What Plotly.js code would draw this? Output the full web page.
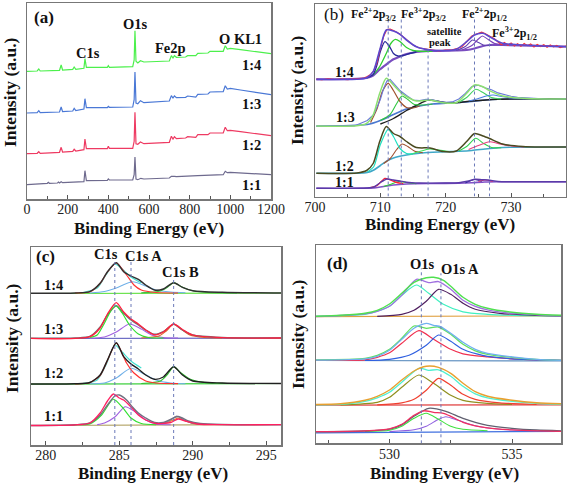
<!DOCTYPE html>
<html><head><meta charset="utf-8">
<script src="https://cdn.plot.ly/plotly-3.0.1.min.js"></script>
<style>html,body{margin:0;padding:0;background:#fff}#g{width:567px;height:483px}</style>
</head><body><div id="g"></div>
<script>
// ---------- Panel (a): survey spectra ----------
const aE14 = [0,50,58,65,160,168,175,225,232,240,280,285,292,395,400,405,520,527,531,536,545,558,575,700,710,718,725,735,780,790,830,840,890,900,965,975,985,1000,1050,1200];
const aI14 = [127.7,128,130,128,128.7,134,129,129.7,132,129.7,130.7,140.3,131.7,131.7,133.3,131.7,132.3,139,168.3,137.7,136,138.3,137,138,143.3,141,143.3,141.7,142,143.3,143.3,145.7,146,147.7,147.7,153.3,150,150.7,149.3,145.3];
const aE13 = aE14;
const aI13 = [86,86.3,88.3,86.3,87,92,87.3,88,90.7,88.3,90,100.3,91.3,91.3,92.7,91.7,92,99.3,127,96,95.3,98.3,96.3,98,103.3,101,103,101.3,101.7,103,102,104.7,105,107,107.3,113.3,110,110.7,109,104.3];
const aE12 = aE14;
const aI12 = [45.3,45.7,47.3,45.7,46.7,51.7,47,47.7,49.7,48,49.3,60,50.3,50.3,52.7,50.7,50.7,57.7,86.7,55.3,54.7,57,55.3,56.7,62.7,60,62.3,60.3,61,62.3,61.7,64.3,64.3,66,66,71.7,68.3,68.7,67.3,63.3];
const aE11 = [0,50,100,105,110,150,155,160,168,175,280,285,292,395,400,405,520,527,531,536,545,560,575,700,710,725,735,840,900,965,975,985,1000,1050,1200];
const aI11 = [14.3,14.7,15.7,16.7,15.7,16,17,16,17.3,16.3,17.3,28.3,18.3,18.7,20,19,19,24.3,42,20,19.3,20.7,20,21,22.7,22.7,22.3,23.3,24,24.3,27.7,26.3,26.7,26,24.3];

// ---------- Panel (b): Fe 2p ----------
const bEenv = [700.2,706.4,707.9,708.9,709.9,710.9,712.0,713.0,714.0,715.5,717.6,719.6,721.6,723.2,724.4,725.7,726.7,728.7,731.8,734.9,738.4];
const bEnv14 = [117.2,117.2,118.8,124.8,146.5,166.5,165.5,162.2,156.5,149.8,146.5,145.8,147.2,154.8,161.5,163.2,159.8,153.2,151.5,150.5,149.8];
const bEnv13 = [70.5,70.8,73.2,81.5,103.2,118.2,111.5,104.8,99.8,95.5,96.5,93.8,93.8,103.2,111.5,109.8,105.8,100.5,98.2,97.5,97.5];
const bEnv12 = [23.2,23.5,26,33,55,70,63,60,55,49,48.5,45,45.5,55,63,60.5,58,52.5,50,49.5,49.5];
const bData14E = [700.2,701,702,703,704,705,706,707,707.5,708,708.5,709,709.5,710,710.5,711,711.5,712,712.5,713,713.5,714,714.5,715,715.5,716,717,718,719,720,721,722,722.5,723,723.5,724,724.5,725,725.5,726,726.5,727,727.5,728,728.5,729,729.5,730,730.5,731,731.5,732,732.5,733,733.5,734,734.5,735,735.5,736,736.5,737,737.5,738.4];
const bData14 = [117.5,116.8,117.6,117,117.4,116.9,117.5,117.8,118.5,120,122,126,134,148,160,167,167.5,166,164.5,162.5,159.5,157,154,151.5,150,148.5,147.5,146.2,145.5,146.5,146.8,148.5,150,153.5,157,160.5,162,163.5,164.3,163,161,159,157.5,154.5,152,154,151.2,153.5,150.5,152.8,150.2,153,150.8,152.5,149.5,152,150,151.8,149.2,151.5,149.5,151,148.8,150.5];
const bBg14E = [700.2,707.9,708.9,709.9,710.9,712.0,713.0,714.0,715.5,717.6,721.6,723.2,724.4,725.7,726.7,728.7,738.4];
const bBg14 = [117.2,118.5,121,127,132,137.2,140,142.5,144.5,145.5,146,146.5,148,150.5,151.5,151.5,150];
const bFe2p14E = [707.9,708.9,709.5,710.0,710.7,711.4,712.0,712.7,713.5,714.5,715.5];
const bFe2p14 = [118.6,122,132,145,154.8,150,143,140.5,141,143,144.5];
const bFe3p14E = [708.9,709.9,710.9,711.6,712.3,713.0,714.0,715.0,716.5,718];
const bFe3p14 = [121.5,130,143,153,157.2,155,149,146,145.2,145.5];
const bHalfA14E = [721.6,723.0,724.1,725.0,726.0,727.0];
const bHalfA14 = [146,150,156.5,154,151,151.5];
const bHalfB14E = [722.5,724.0,725.0,725.6,726.5,727.5,729.0];
const bHalfB14 = [146.5,151,157.5,160.5,157,153,151.5];

const bData13E = [700.2,703,706,708,709,710,710.5,711,711.5,712,713,714,715,716,717,718,719,720,721,722,723,724,725,726,727,728,729,730,731,732,734,736,738.4];
const bData13 = [70.3,70.8,70.5,76,82,97,108,115.5,117,113.5,106,101,96.5,96,97.2,96.8,95,94.2,94.6,97.5,103,110,111.2,108.8,106.8,103.6,101.8,100.2,99.3,98.8,97.9,97.3,97.6];
const bBg13E = [700.2,708,710,712,714,716,718,720,722,724,726,728,738.4];
const bBg13 = [70.5,72,76,82,87.5,90.5,92.5,93.3,94,95,96.5,97.3,97.5];
const bFe2p13E = [708.5,709.5,710.3,711.2,712,713,714,715,716];
const bFe2p13 = [74,88,105,113.2,106,95,89,88.5,90.5];
const bFe3p13E = [710,711.5,712.5,713.3,714.2,715.2,716.5,718];
const bFe3p13 = [76,82,93,100.5,97,92,91.5,92.5];
const bSat13E = [710,712,714,715.5,717.3,719,720.5,722,724,728,738.4];
const bSat13 = [72.5,78,86,91,96.5,95,93.5,94,95.5,97.3,97.5];
const bHalfA13E = [722,723.2,724.6,725.7,727,728.5];
const bHalfA13 = [94.2,99,107.2,104,99,97.5];
const bHalfB13E = [723.5,725,726.5,727.3,728.5,730,732];
const bHalfB13 = [95.5,98,101,101.5,100,98.5,97.8];

const bBg12E = [700.2,708,709,710,711,712,714,716,718,720,722,724,726,728,730,738.4];
const bBg12 = [23.2,24,26.5,31,35.5,38.5,41.5,43.3,44.2,44.8,45.2,46,47.5,48.8,49.3,49.5];
const bFe2p12E = [708,709,710,711.2,712,713,714,715];
const bFe2p12 = [24.5,30,52,67.2,60,48,43,42.5];
const bFe3p12E = [710.5,711.5,712.5,713.3,714.2,715.2,716.5];
const bFe3p12 = [33,38,47,52.5,50,45.5,43.8];
const bSat12E = [714.5,716,717.5,719,720.5];
const bSat12 = [42,45,47.5,46.5,45];
const bHalfA12E = [722,723.2,724.6,725.8,727,728.5];
const bHalfA12 = [45.5,50,58.2,53,49,48.8];
const bHalfB12E = [723.5,725,726.7,728,730,732];
const bHalfB12 = [47,51,54.8,53,50.5,49.6];

const bEnv11E = [700.2,708,709,710,711,712,713,714,716,720,722,723.5,724.5,725.5,726.5,728,730,738.4];
const bEnv11 = [8.2,8.5,9.5,14,17.5,16.5,15.5,14.3,13.5,13.5,13.8,15.5,17.2,16.8,16.5,15,14.7,14.7];
const bFe2p11E = [708.5,709.5,710.7,711.5,712.5,713.5];
const bFe2p11 = [8.8,11,18.2,16.5,14,12.8];
const bFe3p11E = [710.5,711.5,712.8,714,715.5];
const bFe3p11 = [10,12,15,14,12.8];
const bBg11E = [700.2,709,710,711,712,714,718,722,724,726,728,738.4];
const bBg11 = [8.2,8.6,9.5,10.5,11.5,12.5,13,13.3,13.8,14.5,14.7,14.7];
const bHalfA11E = [723,724.4,725.5];
const bHalfA11 = [13.6,17,15];
const bHalfB11E = [725,726,727.2];
const bHalfB11 = [15,16.5,15];
const bRefE = [711.2,713.2,717.3,724.4,726.7];
const bRefTop = [178,178,147,178,158];

// ---------- Panel (c): C 1s ----------
const cEenv = [279,282,283,283.7,284.2,284.8,285.3,285.8,286.3,286.8,287.4,288,288.7,289.3,290,292,296];
const cEnv14 = [151.7,152,153.3,161.7,173.3,182.3,173.3,169,165.7,160,155,156,162.3,157.7,154.3,152.7,152];
const cEnv13 = [106.7,107,108.5,118,130,139.3,131.7,125,120,115,110.7,113.3,120.7,115,110,107.5,107];
const cEnv12 = [61,61.2,62.5,70,85,102.3,88.3,81,76,70,65.7,68,78.3,70,64,62,61.5];
const cBaseE = [279,296];
const cBase14 = [151.5,152];
const cBase13 = [106.5,107];
const cBase12 = [60.8,61.5];
const cBase11 = [19.5,20.5];
const cMain14E = [282,283,283.7,284.2,284.8,285.5,286,286.5,287.5,289];
const cMain14 = [152,153.2,161.5,173,182,170,160,155,152.5,152];
const cA14E = [283,284,284.8,285.9,286.8,287.5,288.5,289.5];
const cA14 = [152,153.5,157,163.3,159,155,153,152.2];
const cB14E = [286.5,287.8,288.3,288.7,289.2,289.8,291,293];
const cB14 = [152.2,154,158,162.3,158.5,155,152.5,152];
const cSide14E = [282.5,283.5,284.1,284.7,285.2,285.8,286.5];
const cSide14 = [152.3,157,170,181,176,168,162];
const cFit13E = [279,283,283.7,284.2,284.8,285.3,285.8,286.3,286.8,287.4,288,288.7,289.3,290,292,296];
const cFit13 = [106.7,108.3,117,131,142.3,133,126,121,115,110.2,113,121,115.5,110,107.3,107];
const cMain13E = [283,283.5,284,284.5,284.8,285.2,285.7,286.3,287,288];
const cMain13 = [107.5,110,122,136,139,132,120,111,107.5,107];
const cA13E = [283,284,284.8,285.7,286.5,287.2,288,289];
const cA13 = [106.8,108,113,121,116,110,107.5,107];
const cB13E = [286.5,287.7,288.2,288.7,289.2,289.8,290.8,292];
const cB13 = [107,109,114,121,116,110,107.5,107];
const cMain12E = [282,283,283.7,284.2,284.8,285.5,286,286.8,287.5,289];
const cMain12 = [61.2,62.3,69.5,84.5,102,82,72,64,62,61.3];
const cA12E = [283,284,284.8,285.8,286.7,287.5,288.5,289.5];
const cA12 = [61.2,62,67,76.7,71,65,62,61.3];
const cB12E = [286.5,287.8,288.3,288.7,289.2,289.8,290.8,292.5];
const cB12 = [61.5,64,71,78.3,72,66,62.5,61.5];
const cSide12E = [282.5,283.5,284.1,284.7,285.2,285.8,286.5];
const cSide12 = [61.5,65,80,100,93,84,77];
const cEnv11E = [279,282,283,283.7,284.2,284.7,285,285.5,285.9,286.3,286.8,287.4,288,289,289.7,290.5,292,296];
const cEnv11 = [19.5,20.2,22,30,40,49,50,45,38,32,27,22.5,22.5,28.5,24,21.5,20.5,20.3];
const cFit11E = [279,282,283,283.7,284.2,284.6,285,285.3,285.8,286.3,286.8,287.5,288.5,289,289.5,290.3,292,296];
const cFit11 = [19.5,20.2,22,32,44,51,47,45,38,30,25,21.5,22.5,26,24,21,20.3,20.3];
const cMain11E = [282.5,283,283.8,284.6,285.2,285.8,286.5,287.5];
const cMain11 = [20.2,21,30,45.7,38,27,21.5,20.3];
const cA11E = [283.5,284,284.7,285.4,286.1,286.8,287.5,288.5];
const cA11 = [20.4,22,28,38.3,33,25,21,20.3];
const cB11E = [287.5,288,288.5,288.9,289.4,290,291];
const cB11 = [20.5,21.5,25,29,25,21.5,20.5];
const cB11bE = [287.5,288.1,288.6,289,289.5,290.1,291];
const cB11b = [20.5,21.5,24.5,27,24,21.3,20.5];
const cRefE = [284.7,285.8,288.7];
const cRefTop = [183,183,168];

// ---------- Panel (d): O 1s ----------
const dEnvG14E = [527,528,529,529.5,530,530.5,531,531.5,531.8,532.2,532.5,533,533.5,534,535,536,537];
const dEnvG14 = [127,128,130,133,139.3,150,161,165.5,166,163,157,146,139,135,131,129,128];
const dEnvP14E = [527,528,529,529.5,530,530.5,531.1,531.6,532,532.5,533,533.5,534,535,536,537];
const dEnvP14 = [126.8,127.8,129.5,132,137,148,164,160.7,161.7,154,143,137,133.5,130,128.5,127.5];
const dMain14E = [527,529,529.5,530,530.5,531.1,531.6,532.2,533,534,535,537];
const dMain14 = [127,129,132,137,148,158.3,150,139,131.5,129,128,127.5];
const dA14E = [529.5,530.5,531,531.5,532,532.5,533,533.5,534.5,536,537];
const dA14 = [127,129,133,142,154,149,140,134,130,128,127.5];
const dBaseE = [527,537];
const dBase14 = [126.6,127.5];
const dEnvB13E = [527,529,529.5,530,530.5,531,531.5,531.8,532.1,532.5,533,533.5,534,535,536,537];
const dEnvB13 = [83.2,84.5,87,93,104,115,120,118,116.5,110,101,94,90,86.5,84,83];
const dEnvG13E = [527,529,529.5,530,530.5,531,531.5,532,532.5,533,533.5,534,535,536,537];
const dEnvG13 = [83.5,85,88,94,105,117.3,115,116.3,109,99,92.5,89,86,84,83];
const dMain13E = [527,529,529.5,530,530.5,531.2,531.8,532.5,533,534,535,537];
const dMain13 = [83,83.5,86,90.5,100,112.6,104,94,89.5,86.5,84.5,83];
const dA13E = [529,530,530.8,531.5,532,532.5,533,533.8,535,537];
const dA13 = [82.8,84,88,98,108.3,102,94,88,84.5,83];
const dBase13 = [82.8,82.4];
const dEnvO12E = [527,528,529,529.5,530,530.5,531,531.5,532,532.5,533,533.5,534,535,536,537];
const dEnvO12 = [38.8,39.5,43,47,53.3,63.3,72.3,77,76,70,60,51.6,47,43,40.5,39.5];
const dEnvC12E = [527,528,529,529.5,530,530.5,531.2,531.6,532,532.5,533,533.5,534,535,536,537];
const dEnvC12 = [38.5,39,42,45.5,51,61,75,73,73.5,67,57,49.5,45.5,42,40,39];
const dMain12E = [528,529.5,530,530.5,531.2,531.8,532.5,533,534,535];
const dMain12 = [38.5,41,46,56,68.3,60,48,43,40,38.8];
const dA12E = [529.5,530.5,531,531.5,532,532.5,533,533.5,534.5,536];
const dA12 = [38.4,40.5,44,53,65,58,49,44,40.5,38.8];
const dBase12 = [38.2,38.5];
const dEnvR11E = [527,529,530,530.5,531,531.4,531.8,532.2,532.5,533,533.5,534,535,536,537];
const dEnvR11 = [11.6,12.5,14.5,19,28,32.5,31,30,27,21,17.5,15.5,13.5,12.5,12];
const dEnvK11E = [527,529,530,530.5,531,531.6,532.3,533,534,535,536,537];
const dEnvK11 = [11.5,12.3,14.2,18.5,27,35,32,25,18,15,13.3,12.5];
const dMain11E = [529,530,530.5,531,531.5,532,532.5,533,534];
const dMain11 = [11.8,13,17,25,30,24,17,14,12.5];
const dA11E = [530,531,531.5,532,532.3,532.8,533.5,534.5,536];
const dA11 = [11.7,13.5,17,24,26.6,23,17.5,14,12.5];
const dBase11 = [10.5,12];
const dRefE = [531.3,532.1];
const dRefTop = [175,170];

// ---------- build ----------
const W = 567, H = 483;
const px = v => v / W, py = v => 1 - v / H;
const traces = [];
function L(x, y, color, w, ax, linear) {
  traces.push({x: x, y: y, type: 'scatter', mode: 'lines', xaxis: 'x' + ax, yaxis: 'y' + ax,
    line: {color: color, width: w, shape: linear ? 'linear' : 'spline', smoothing: 0.7},
    hoverinfo: 'skip', showlegend: false});
}
// (a)
L(aE11, aI11, '#6e6a8e', 1.2, '', true);
L(aE12, aI12, '#ee3a62', 1.2, '', true);
L(aE13, aI13, '#4a78d6', 1.2, '', true);
L(aE14, aI14, '#4cf04c', 1.2, '', true);
// (b)
L(bBg11E, bBg11, '#8050c8', 1.6, '2');
L(bFe3p11E, bFe3p11, '#30d030', 1.1, '2');
L(bFe2p11E, bFe2p11, '#ff2030', 1.3, '2');
L(bHalfA11E, bHalfA11, '#3030a0', 1.1, '2');
L(bHalfB11E, bHalfB11, '#e03070', 1.1, '2');
L(bEnv11E, bEnv11, '#5a3aa8', 1.4, '2');
L(bBg12E, bBg12, '#40a8c8', 1.6, '2');
L(bFe3p12E, bFe3p12, '#a05030', 1.1, '2');
L(bSat12E, bSat12, '#40e060', 1.1, '2');
L(bFe2p12E, bFe2p12, '#20e0c0', 1.2, '2');
L(bHalfA12E, bHalfA12, '#30d050', 1.1, '2');
L(bHalfB12E, bHalfB12, '#e84080', 1.1, '2');
L(bEenv, bEnv12, '#4a4a20', 1.5, '2');
L(bBg13E, bBg13, '#4a78d0', 1.6, '2');
L(bSat13E, bSat13, '#202020', 1.4, '2');
L(bFe3p13E, bFe3p13, '#30c840', 1.1, '2');
L(bFe2p13E, bFe2p13, '#a0522d', 1.2, '2');
L(bHalfA13E, bHalfA13, '#40d060', 1.1, '2');
L(bHalfB13E, bHalfB13, '#4a80e0', 1.1, '2');
L(bData13E, bData13, '#6a7ad8', 1.1, '2', true);
L(bEenv, bEnv13, '#8ce070', 1.5, '2');
L(bBg14E, bBg14, '#7a4ec0', 2.2, '2');
L(bFe3p14E, bFe3p14, '#30d030', 1.3, '2');
L(bFe2p14E, bFe2p14, '#2a2a9a', 1.3, '2');
L(bHalfA14E, bHalfA14, '#6040b0', 1.1, '2');
L(bHalfB14E, bHalfB14, '#7a40b8', 1.1, '2');
L(bData14E, bData14, '#ff3030', 1.1, '2', true);
L(bEenv, bEnv14, '#5a48d0', 1.6, '2');
// (c)
L(cBaseE, cBase11, '#b0a060', 1.2, '3');
L(cB11bE, cB11b, '#f08020', 1.1, '3');
L(cB11E, cB11, '#808090', 1.2, '3');
L(cA11E, cA11, '#a060e0', 1.1, '3');
L(cMain11E, cMain11, '#30e030', 1.1, '3');
L(cEnv11E, cEnv11, '#707080', 1.4, '3');
L(cFit11E, cFit11, '#ff2060', 1.3, '3');
L(cBaseE, cBase12, '#40d040', 1.2, '3');
L(cA12E, cA12, '#70b0e8', 1.1, '3');
L(cB12E, cB12, '#30c030', 1.2, '3');
L(cSide12E, cSide12, '#40e0d0', 1.1, '3');
L(cMain12E, cMain12, '#ff3030', 1.2, '3');
L(cEenv, cEnv12, '#202020', 1.4, '3');
L(cBaseE, cBase13, '#6060c0', 1.2, '3');
L(cA13E, cA13, '#a060e0', 1.1, '3');
L(cB13E, cB13, '#e06020', 1.2, '3');
L(cEenv, cEnv13, '#707070', 1.4, '3');
L(cMain13E, cMain13, '#30e030', 1.2, '3');
L(cFit13E, cFit13, '#ff2040', 1.3, '3');
L(cBaseE, cBase14, '#60e040', 1.2, '3');
L(cA14E, cA14, '#70b0e8', 1.1, '3');
L(cB14E, cB14, '#40c040', 1.2, '3');
L(cSide14E, cSide14, '#40e0d0', 1.1, '3');
L(cMain14E, cMain14, '#ff3030', 1.2, '3');
L(cEenv, cEnv14, '#303030', 1.4, '3');
// (d)
L(dBaseE, dBase11, '#4070e0', 1.2, '4');
L(dA11E, dA11, '#9060e0', 1.1, '4');
L(dMain11E, dMain11, '#40e040', 1.1, '4');
L(dEnvK11E, dEnvK11, '#606070', 1.3, '4');
L(dEnvR11E, dEnvR11, '#f03060', 1.3, '4');
L(dBaseE, dBase12, '#e04040', 1.2, '4');
L(dMain12E, dMain12, '#909020', 1.2, '4');
L(dA12E, dA12, '#f04030', 1.2, '4');
L(dEnvC12E, dEnvC12, '#50f0d0', 1.3, '4');
L(dEnvO12E, dEnvO12, '#e8a030', 1.4, '4');
L(dBaseE, dBase13, '#6090c0', 1.2, '4');
L(dMain13E, dMain13, '#f03050', 1.2, '4');
L(dA13E, dA13, '#3060e0', 1.2, '4');
L(dEnvG13E, dEnvG13, '#60e060', 1.3, '4');
L(dEnvB13E, dEnvB13, '#70b0f0', 1.3, '4');
L(dBaseE, dBase14, '#e0a040', 1.2, '4');
L(dMain14E, dMain14, '#40f0c0', 1.2, '4');
L(dA14E, dA14, '#502060', 1.2, '4');
L(dEnvP14E, dEnvP14, '#a070e0', 1.3, '4');
L(dEnvG14E, dEnvG14, '#50e050', 1.4, '4');

// dotted reference lines
const shapes = [];
function refs(E, tops, ax) {
  E.forEach((e, i) => shapes.push({type: 'line', xref: 'x' + ax, yref: 'y' + ax, x0: e, x1: e, y0: 0, y1: tops[i],
    line: {color: '#6a78b8', width: 1, dash: 'dot'}, layer: 'above'}));
}
refs(bRefE, bRefTop, '2'); refs(cRefE, cRefTop, '3'); refs(dRefE, dRefTop, '4');

const FONT = 'Liberation Serif';
const tickFont = {family: FONT, size: 14, color: '#222'};
function xax(dom, range, dtick, minor, anchor) {
  return {domain: dom, range: range, anchor: anchor, dtick: dtick, tick0: 0, ticks: 'inside', ticklen: 4,
    tickcolor: '#555', tickwidth: 1, minor: {dtick: minor, ticks: 'inside', ticklen: 3, tickcolor: '#555'},
    showline: true, mirror: true, linecolor: '#777', linewidth: 1.5, showgrid: false, zeroline: false,
    tickfont: tickFont, ticklabelstandoff: -3, fixedrange: true};
}
function yax(dom, range, anchor) {
  return {domain: dom, range: range, anchor: anchor, showticklabels: false, ticks: '', showline: true,
    mirror: true, linecolor: '#777', linewidth: 1.5, showgrid: false, zeroline: false, fixedrange: true};
}
const ann = [];
function A(text, x, y, size, bold, extra) {
  ann.push(Object.assign({text: bold ? '<b>' + text + '</b>' : text, xref: 'paper', yref: 'paper', x: px(x), y: py(y), xanchor: 'center',
    yanchor: 'middle', showarrow: false, font: {family: FONT, size: size, color: '#111'}}, extra || {}));
}
// titles
A('Binding Energy (eV)', 149, 228, 17, true);
A('Binding Energy (eV)', 440, 224, 17, true);
A('Binding Energy (eV)', 153, 473, 17, true);
A('Binding Evergy (eV)', 444, 473, 17, true);
A('Intensity (a.u.)', 10, 92, 17.5, true, {textangle: -90});
A('Intensity (a.u.)', 297, 90, 17.5, true, {textangle: -90});
A('Intensity (a.u.)', 12, 338, 17.5, true, {textangle: -90});
A('Intensity (a.u.)', 298, 334, 17.5, true, {textangle: -90});
// panel letters
A('(a)', 44, 17, 17, true);
A('(b)', 334, 14, 17, false);
A('(c)', 45, 256, 17, true);
A('(d)', 337, 263, 17, true);
// (a) labels
A('C1s', 88, 53, 14.5, true); A('O1s', 135, 24, 14.5, true); A('Fe2p', 170, 48, 14.5, true); A('O KL1', 240, 39, 14.5, true);
A('1:4', 251, 65, 14.5, true); A('1:3', 251, 104, 14.5, true); A('1:2', 251, 145, 14.5, true); A('1:1', 251, 185, 14.5, true);
// (b) labels
A('Fe<sup>2+</sup>2p<sub>3/2</sub>', 373, 14, 12, true);
A('Fe<sup>3+</sup>2p<sub>3/2</sub>', 423, 14, 12, true);
A('satellite', 444, 32, 10.5, true);
A('peak', 440, 43, 10.5, true);
A('Fe<sup>2+</sup>2p<sub>1/2</sub>', 484, 14, 12, true);
A('Fe<sup>3+</sup>2p<sub>1/2</sub>', 514, 33, 12, true);
A('1:4', 344, 72, 14, true); A('1:3', 345, 117, 14, true); A('1:2', 344, 166, 14, true); A('1:1', 344, 183, 14, true);
// (c) labels
A('C1s', 106, 254, 14.5, true); A('C1s A', 143, 256, 14.5, true); A('C1s B', 180, 272, 14.5, true);
A('1:4', 53, 285, 14.5, true); A('1:3', 53, 329, 14.5, true); A('1:2', 53, 373, 14.5, true); A('1:1', 53, 416, 14.5, true);
// (d) labels
A('O1s', 422, 264, 14.5, true); A('O1s A', 460, 269, 14.5, true);

const layout = {
  width: W, height: H, margin: {l: 0, r: 0, t: 0, b: 0}, paper_bgcolor: '#fff', plot_bgcolor: '#fff',
  showlegend: false, font: {family: FONT},
  xaxis: xax([27 / W, 271 / W], [0, 1200], 200, 100, 'y'),
  yaxis: yax([1 - 199 / H, 1 - 3 / H], [0, 196], 'x'),
  xaxis2: xax([315 / W, 566 / W], [700, 738.4], 10, 5, 'y2'),
  yaxis2: yax([1 - 196.5 / H, 1 - 4 / H], [0, 192.5], 'x2'),
  xaxis3: xax([31 / W, 281 / W], [279, 296], 5, 2.5, 'y3'),
  yaxis3: yax([1 - 445 / H, 1 - 247 / H], [0, 198], 'x3'),
  xaxis4: xax([316 / W, 561 / W], [527, 537], 5, 2.5, 'y4'),
  yaxis4: yax([1 - 443.3 / H, 1 - 245 / H], [0, 198.3], 'x4'),
  shapes: shapes, annotations: ann
};
Plotly.newPlot('g', traces, layout, {staticPlot: true, displayModeBar: false});
</script></body></html>
